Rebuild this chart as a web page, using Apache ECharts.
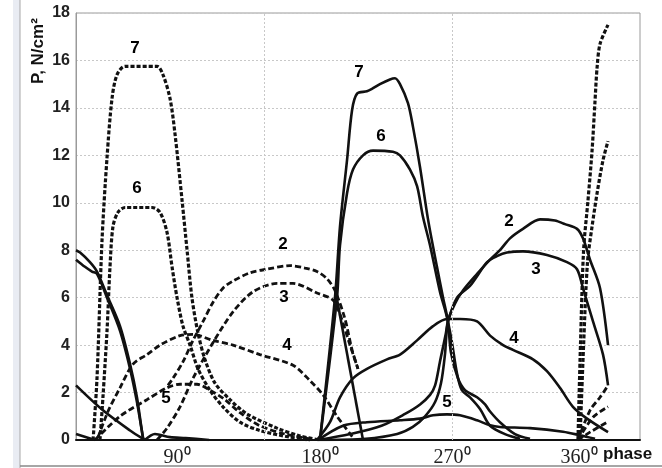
<!DOCTYPE html>
<html>
<head>
<meta charset="utf-8">
<style>
  html, body { margin: 0; padding: 0; background: #fff; }
  #main { width: 662px; height: 468px; }
</style>
<script src="https://cdn.jsdelivr.net/npm/echarts@6/dist/echarts.min.js"></script>
</head>
<body>
<div id="main"></div>
<script>
// phase (deg) / pressure (N/cm2)

// dashed curves, first half of the cycle
var dashed7 = [[40.9,0],[43.4,2.6],[46.6,8.4],[49.8,11.9],[53.0,14.4],[56.2,15.4],[61.3,15.75],[81.7,15.75],[85.5,15.4],[90.0,14.4],[93.2,12.9],[97.7,10.1],[100.9,8.0],[104.0,6.0],[107.9,4.5],[112.3,3.4],[118.7,2.4],[128.3,1.7],[139.1,1.1],[158.3,0.5],[173.0,0.17],[185.7,0]];
var dashed7b = [[350.4,0],[352.0,4.0],[354.0,8.0],[356.8,10.1],[359.4,12.2],[361.3,14.3],[362.6,15.7],[364.5,16.7],[369.6,17.5]];
var dashed6 = [[45.3,0],[47.2,1.8],[49.8,4.6],[51.7,7.3],[53.6,9.0],[56.8,9.6],[61.3,9.8],[78.5,9.8],[83.6,9.6],[88.1,8.75],[91.3,7.3],[94.5,6.0],[98.3,4.8],[102.8,4.0],[107.9,3.0],[115.5,2.1],[123.8,1.4],[134.7,0.75],[147.4,0.4],[166.6,0.12],[179.4,0]];
var dashed6b = [[351.7,0],[354.0,4.0],[356.5,7.5],[359.4,9.0],[362.6,10.4],[366.4,11.8],[369.6,12.6]];
var dashed5 = [[42.1,0],[58.1,1.0],[75.3,1.7],[88.1,2.2],[96.4,2.35],[107.2,2.35],[115.5,2.1],[125.1,1.7],[134.7,1.15],[147.4,0.6],[163.4,0.25],[179.4,0.05]];
var dashed5b = [[350.4,0],[358.1,0.33],[369.0,0.75]];
var dashed4 = [[44.0,0.1],[50.4,1.2],[58.1,2.2],[66.4,3.2],[75.3,3.6],[83.6,4.0],[96.4,4.4],[104.7,4.45],[117.4,4.2],[130.2,4.0],[147.4,3.6],[168.5,3.15],[179.4,2.5],[187.7,1.9],[196.6,1.0],[206.8,0.1]];
var dashed4b = [[350.4,0],[360.0,0.96],[369.6,1.4]];
var dashed3 = [[81.7,0],[88.1,0.5],[96.4,1.4],[104.7,2.6],[117.4,4.1],[130.2,5.4],[143.0,6.25],[158.3,6.6],[168.5,6.6],[183.8,6.2],[194.0,5.9],[198.5,5.3],[204.9,4.0],[210.0,3.0]];
var dashed2 = [[88.7,2.3],[91.9,2.6],[98.3,3.3],[104.7,4.2],[111.1,5.0],[117.4,5.8],[123.8,6.4],[130.2,6.7],[141.1,7.05],[151.9,7.2],[166.6,7.35],[176.2,7.25],[183.8,7.1],[190.2,6.8],[195.3,6.3],[201.7,5.1],[206.2,3.8],[210.0,3.0]];
var dashed2b = [[350.4,0],[358.1,1.25],[364.5,1.8],[369.6,2.3]];

// solid curves, second half of the cycle
var solid7a = [[30,8.0],[32.6,7.9],[38.9,7.5],[43.4,7.1],[49.8,6.1],[58.1,4.8],[64.5,3.2],[68.9,1.8],[72.8,0.1],[74.0,0]];
var solid7 = [[185.7,0],[195.3,6.0],[198.5,9.0],[203.0,11.8],[206.2,13.9],[209.4,14.6],[215.7,14.7],[218.9,14.8],[224.0,15.0],[230.4,15.2],[233.6,15.25],[236.8,15.0],[241.9,14.2],[245.1,13.2],[249.6,11.5],[254.7,9.3],[260.4,7.3],[264.3,6.0],[267.4,5.0],[269.3,3.7],[273.8,2.6],[278.3,2.1],[286.0,1.8],[291.1,1.5],[294.3,1.2],[300.6,0.75],[310.2,0.25],[319.8,0.05]];
var solid6a = [[30,7.6],[35.7,7.3],[40.2,7.1],[43.4,7.0],[49.8,6.0],[58.1,4.6],[64.5,3.0],[68.9,1.6],[72.8,0.05]];
var solid6 = [[185.7,0],[196.6,6.0],[198.5,8.2],[203.0,10.4],[206.8,11.4],[213.2,12.0],[219.6,12.2],[232.3,12.15],[236.8,12.0],[243.2,11.4],[247.7,10.7],[251.5,9.4],[256.0,8.2],[262.3,6.25],[265.5,5.5],[267.4,5.0],[270.0,4.1],[273.2,2.8],[276.3,2.1],[281.5,1.8],[288.0,1.3],[294.3,0.6],[303.8,0.25],[313.4,0.05]];
var solid5a = [[30,2.3],[47.2,1.25],[64.5,0.4],[72.8,0.05]];
var solid5 = [[184.5,0],[200.4,0.6],[215.7,0.75],[236.8,0.83],[249.6,0.9],[257.9,1.04],[266.8,1.08],[275.1,1.04],[286.0,0.83],[294.3,0.62],[300.6,0.55],[319.8,0.5],[340.9,0.35],[351.7,0.2],[361.3,0.05]];
var solid4a = [[30,0.25],[42.1,0]];
var solid4 = [[183.8,0],[192.1,0.75],[198.5,1.8],[206.8,2.6],[215.7,3.0],[228.5,3.4],[236.8,3.6],[247.7,4.2],[257.9,4.8],[266.8,5.1],[275.1,5.1],[286.0,5.0],[294.3,4.4],[302.6,4.0],[308.9,3.8],[321.7,3.4],[330.6,2.9],[338.9,2.2],[347.2,1.4],[356.2,0.9],[369.6,0.33]];
var solid3a = [[74.0,0],[80.4,0.25],[90.0,0.12],[100.0,0.08],[115.0,0]];
var solid3 = [[184.5,0],[205.0,0.25],[225.0,0.6],[240.0,1.1],[249.6,1.5],[256.0,1.9],[259.2,2.3],[262.3,3.3],[266.1,4.5],[267.4,5.0],[273.2,6.0],[281.5,6.5],[286.0,6.9],[292.4,7.5],[298.7,7.75],[305.1,7.9],[315.3,7.95],[330.6,7.8],[343.4,7.5],[349.8,7.2],[353.6,6.4],[360.0,5.0],[366.4,3.6],[369.6,2.3]];
var solid2 = [[184.5,0],[215.0,0.05],[235.0,0.25],[245.0,0.55],[252.8,1.0],[259.2,1.6],[263.0,2.4],[265.5,3.6],[267.4,5.0],[271.9,5.75],[277.0,6.3],[286.0,7.0],[294.3,7.6],[300.6,8.0],[307.0,8.5],[315.3,8.9],[326.2,9.3],[335.7,9.25],[342.1,9.1],[349.8,8.9],[353.6,8.5],[358.1,7.6],[364.5,6.4],[369.6,4.0]];
var solid1 = [[195.3,6.4],[213.2,0]];

// curve numbers
var curveLabels = [
  [67.7,16.5,'7'],[68.9,10.6,'6'],[162.1,8.25,'2'],[162.8,6.0,'3'],[164.7,4.0,'4'],[87.4,1.75,'5'],
  [210.6,15.5,'7'],[224.7,12.8,'6'],[306.4,9.2,'2'],[323.6,7.2,'3'],[309.6,4.3,'4'],[266.8,1.6,'5']
];

var xLabels = [90, 180, 270, 360];
var gridX = [150, 270];

var chart = echarts.init(document.getElementById('main'));

var series = [];
function addLine(data, dashed, dense) {
  series.push({
    type: 'line',
    data: data,
    smooth: 0.3,
    showSymbol: false,
    silent: true,
    animation: false,
    lineStyle: {
      color: '#111',
      width: dashed ? (dense ? 3.2 : 2.8) : 2.6,
      type: dashed ? (dense ? [4, 2] : [6, 3]) : 'solid'
    }
  });
}

[dashed7, dashed7b, dashed6, dashed6b].forEach(function (d) { addLine(d, true, true); });
[dashed5, dashed5b, dashed4, dashed4b, dashed3, dashed2, dashed2b].forEach(function (d) { addLine(d, true, false); });
[solid7a, solid7, solid6a, solid6, solid5a, solid5, solid4a, solid4, solid3a, solid3, solid2].forEach(function (d) { addLine(d, false); });
series.push({
  type: 'line', data: solid1, showSymbol: false, silent: true, animation: false,
  lineStyle: { color: '#111', width: 2.6 }
});

// vertical grid lines
series[0].markLine = {
  silent: true,
  symbol: 'none',
  label: { show: false },
  lineStyle: { color: '#c8c8c8', type: [2, 2], width: 1 },
  data: gridX.map(function (v) { return { xAxis: v }; })
};

series.push({
  type: 'scatter',
  data: curveLabels,
  symbolSize: 0,
  itemStyle: { color: '#000', opacity: 1 },
  silent: true,
  animation: false,
  label: {
    show: true,
    position: 'inside',
    formatter: function (p) { return p.data[2]; },
    color: '#000',
    opacity: 1,
    textBorderWidth: 0,
    fontFamily: 'Liberation Sans',
    fontWeight: 'bold',
    fontSize: 17
  }
});

var labelFont = { fontFamily: 'Liberation Serif', fontSize: 20, color: '#222' };
var option = {
  backgroundColor: '#fff',
  animation: false,
  grid: {
    left: 76, right: 22, top: 13, bottom: 25,
    show: true, borderColor: '#9a9a9a', borderWidth: 1
  },
  xAxis: {
    type: 'value',
    min: 30, max: 390, interval: 30,
    axisLine: { show: true, lineStyle: { color: '#111', width: 2 } },
    axisTick: { show: false },
    splitLine: { show: false },
    axisLabel: {
      margin: 8,
      formatter: function (v) {
        if (xLabels.indexOf(v) < 0) return '';
        return '{l' + v + '|' + v + '⁰}';
      },
      rich: {
        l90: Object.assign({ padding: [0, 0, 0, 14] }, labelFont),
        l180: Object.assign({ padding: [0, 0, 0, 18] }, labelFont),
        l270: Object.assign({ padding: [0, 0, 0, 0] }, labelFont),
        l360: Object.assign({ padding: [0, 28, 0, 0] }, labelFont)
      }
    }
  },
  yAxis: {
    type: 'value',
    min: 0, max: 18, interval: 2,
    axisLine: { show: true, lineStyle: { color: '#9a9a9a' } },
    axisTick: { show: false },
    splitLine: { show: true, lineStyle: { color: '#c8c8c8', type: [2, 2] } },
    axisLabel: {
      margin: 6,
      color: '#222',
      fontFamily: 'Liberation Sans',
      fontWeight: 'bold',
      fontSize: 16
    }
  },
  graphic: [
    { type: 'rect', shape: { x: 13, y: 0, width: 7, height: 468 }, style: { fill: '#e9ecf3' }, silent: true },
    { type: 'line', shape: { x1: 20, y1: 0, x2: 20, y2: 468 }, style: { stroke: '#a8a8a8', lineWidth: 1 }, silent: true },
    { type: 'line', shape: { x1: 20, y1: 466, x2: 662, y2: 466 }, style: { stroke: '#888', lineWidth: 1.5 }, silent: true },
    {
      type: 'text', x: 38, y: 84, rotation: Math.PI / 2, silent: true,
      style: { text: 'P, N/cm²', fill: '#111', font: 'bold 17px "Liberation Sans"', textAlign: 'left', textVerticalAlign: 'middle' }
    },
    {
      type: 'text', x: 603, y: 454, silent: true,
      style: { text: 'phase', fill: '#111', font: 'bold 17px "Liberation Sans"', textAlign: 'left', textVerticalAlign: 'middle' }
    }
  ],
  series: series
};
chart.setOption(option);
</script>
</body>
</html>
